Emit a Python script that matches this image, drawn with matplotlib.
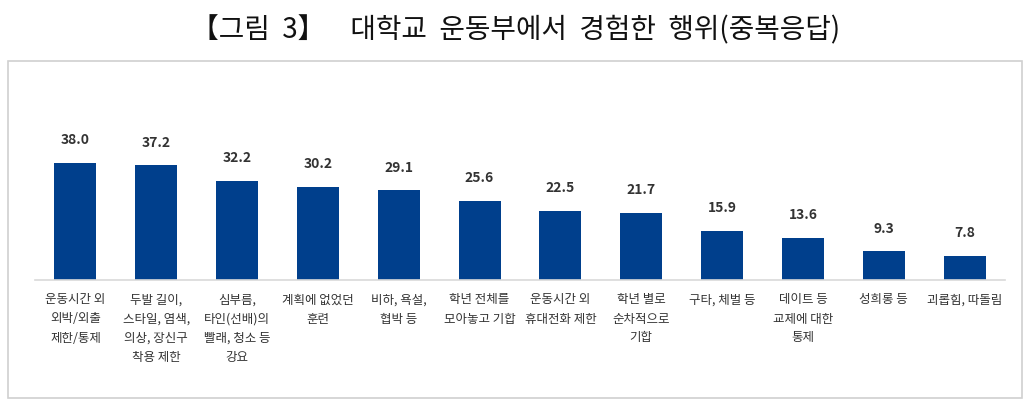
import matplotlib
matplotlib.use("Agg")
import matplotlib.pyplot as plt
from matplotlib.patches import Rectangle

plt.rcParams['font.family'] = ['Noto Sans CJK KR', 'DejaVu Sans']

categories = [
    "운동시간 외\n외박/외출\n제한/통제",
    "두발 길이,\n스타일, 염색,\n의상, 장신구\n착용 제한",
    "심부름,\n타인(선배)의\n빨래, 청소 등\n강요",
    "계획에 없었던\n훈련",
    "비하, 욕설,\n협박 등",
    "학년 전체를\n모아놓고 기합",
    "운동시간 외\n휴대전화 제한",
    "학년 별로\n순차적으로\n기합",
    "구타, 체벌 등",
    "데이트 등\n교제에 대한\n통제",
    "성희롱 등",
    "괴롭힘, 따돌림",
]
values = [38.0, 37.2, 32.2, 30.2, 29.1, 25.6, 22.5, 21.7, 15.9, 13.6, 9.3, 7.8]
title = "【그림  3】    대학교  운동부에서  경험한  행위(중복응답)"

W, H = 1032, 410
fig = plt.figure(figsize=(W / 100, H / 100), dpi=100)

# outer frame
fig.patches.append(Rectangle((8 / W, 1 - 399 / H), (1022 - 8) / W, (399 - 62) / H,
                             transform=fig.transFigure, fill=False,
                             edgecolor='#d0d0d0', linewidth=1.2))

fig.text(0.5, 1 - 30 / H, title, ha='center', va='center', fontsize=20,
         color='#111111')

ax_left, ax_right, ax_base, ax_top = 35, 1005, 281, 100
ax = fig.add_axes([ax_left / W, 1 - ax_base / H, (ax_right - ax_left) / W,
                   (ax_base - ax_top) / H])

x = list(range(len(values)))
ax.bar(x, values, width=0.52, color='#003f8c')
for xi, v in zip(x, values):
    ax.annotate(f"{v:.1f}", (xi, v), xytext=(0, 12), textcoords='offset points',
                ha='center', va='bottom', fontsize=10, fontweight='bold',
                color='#333333')

ax.set_xlim(-0.5, len(values) - 0.5)
ax.set_ylim(0, (ax_base - ax_top) / 3.08)
ax.set_xticks(x)
ax.set_xticklabels(categories, fontsize=9, color='#333333', linespacing=1.6)
ax.tick_params(axis='x', length=0, pad=9)
ax.set_yticks([])
for s in ['top', 'right', 'left']:
    ax.spines[s].set_visible(False)
ax.spines['bottom'].set_color('#d9d9d9')
ax.spines['bottom'].set_linewidth(1.2)

fig.savefig("out.png", dpi=100)
